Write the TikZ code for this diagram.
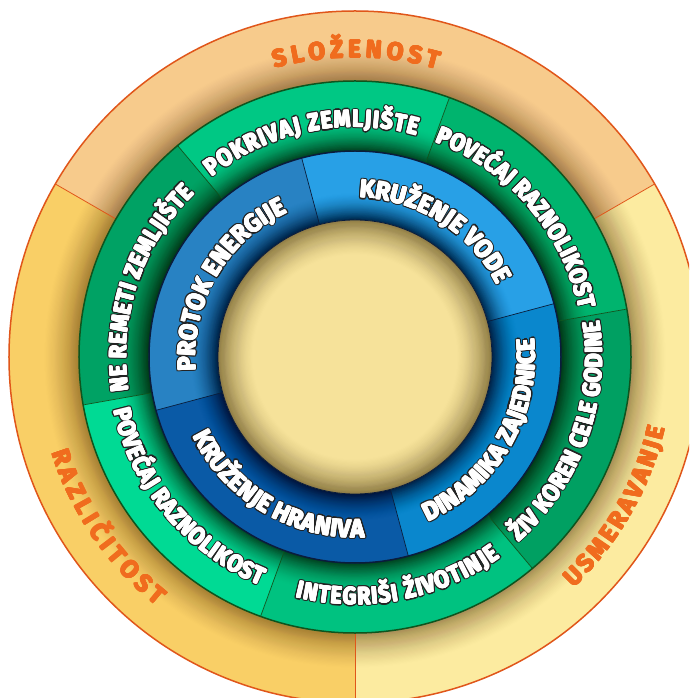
\documentclass[tikz,border=0pt]{standalone}
\usepackage{fontspec}
\usetikzlibrary{decorations.text}
\newfontfamily\orfam{Fira Sans}[FakeStretch=1.0]
\newfontfamily\grfam{Fira Sans}[FakeStretch=0.9]
\newfontfamily\blfam{Fira Sans}[FakeStretch=0.96]
\newcommand\ofmt{\orfam\bfseries\fontsize{24.5pt}{26pt}\selectfont}
\newcommand\gfmt{\grfam\bfseries\fontsize{24pt}{26pt}\selectfont}
\newcommand\bfmt{\blfam\bfseries\fontsize{25pt}{27pt}\selectfont}
\definecolor{oTop}{RGB}{247,203,140}
\definecolor{oLeft}{RGB}{249,207,102}
\definecolor{oRight}{RGB}{252,235,160}
\definecolor{oLine}{RGB}{224,86,26}
\definecolor{oText}{RGB}{240,108,30}
\definecolor{oShadow}{RGB}{90,55,15}
\definecolor{gA}{RGB}{0,200,132}
\definecolor{gB}{RGB}{0,180,110}
\definecolor{gC}{RGB}{0,162,100}
\definecolor{gD}{RGB}{0,218,148}
\definecolor{gE}{RGB}{0,194,128}
\definecolor{gF}{RGB}{0,160,98}
\definecolor{gLine}{RGB}{14,84,30}
\definecolor{gShadow}{RGB}{0,35,12}
\definecolor{bA}{RGB}{40,130,195}
\definecolor{bB}{RGB}{40,160,230}
\definecolor{bC}{RGB}{10,135,205}
\definecolor{bD}{RGB}{10,90,166}
\definecolor{bLine}{RGB}{10,28,60}
\definecolor{bShadow}{RGB}{0,14,40}
\definecolor{disk}{RGB}{246,226,154}
\definecolor{dShadow}{RGB}{80,62,20}
\definecolor{txtLine}{RGB}{35,35,35}
\tikzset{
  orline/.style={draw=oLine,line width=0.8pt},
  grline/.style={draw=gLine,line width=0.7pt},
  blline/.style={draw=bLine,line width=0.7pt}
}
\newcommand\sector[4]{% color, r, a1, a2
  \fill[#1] (0,0) -- (#3:#2pt) arc[start angle=#3,end angle=#4,radius=#2pt] -- cycle;}
% soft shadow band: colour, r0, signed width, max opacity, power, layers
\newcommand\ringshadow[6]{%
  \foreach \i in {1,...,#6}{%
    \pgfmathsetmacro\Ti{#4*(max(0.0001,1-(\i-0.5)/#6))^#5}%
    \pgfmathsetmacro\Tn{#4*(max(0.0001,1-(\i+0.5)/#6))^#5}%
    \pgfmathsetmacro\ai{1-(1-\Ti)/(1-\Tn)}%
    \pgfmathsetmacro\rr{#2+#3*\i/#6}%
    \fill[#1,opacity=\ai,even odd rule] (0,0) circle[radius=#2pt] (0,0) circle[radius=\rr pt];
  }}
% one copy of a text along an arc: colour, dx, dy, fmt, radius, start, end, text
\newcommand\arctext[8]{%
  \path[shift={(#2pt,#3pt)},decorate,decoration={text along path,text={|#4|#8},text align={fit to path},text color=#1}] (#6:#5pt) arc[start angle=#6,end angle=#7,radius=#5pt];}
\newcommand\olabel[5]{% fmt, radius, start, end, text (white, dark outline)
  \foreach \an in {0,30,...,330}{%
    \pgfmathsetmacro\ox{1.9*cos(\an)}\pgfmathsetmacro\oy{1.9*sin(\an)}%
    \arctext{txtLine}{\ox}{\oy}{#1}{#2}{#3}{#4}{#5}}%
  \arctext{white}{0}{0}{#1}{#2}{#3}{#4}{#5}%
  \foreach \an in {0,45,...,315}{%
    \pgfmathsetmacro\ox{0.6*cos(\an)}\pgfmathsetmacro\oy{0.6*sin(\an)}%
    \arctext{white}{\ox}{\oy}{#1}{#2}{#3}{#4}{#5}}%
}
\newcommand\plabel[5]{% fmt, radius, start, end, text (orange)
  \arctext{oText}{0}{0}{#1}{#2}{#3}{#4}{#5}%
  \foreach \an in {0,45,...,315}{%
    \pgfmathsetmacro\ox{0.6*cos(\an)}\pgfmathsetmacro\oy{0.6*sin(\an)}%
    \arctext{oText}{\ox}{\oy}{#1}{#2}{#3}{#4}{#5}}%
}
\begin{document}
\begin{tikzpicture}[x=1pt,y=1pt]
\useasboundingbox (-355,-341) rectangle (334,357);
\fill[white] (-355,-341) rectangle (334,357);
\begin{scope}
\clip (-355,-341) rectangle (334,357);
% outer ring
\sector{oTop}{346}{30}{150}
\sector{oLeft}{346}{150}{270}
\sector{oRight}{346}{270}{390}
\ringshadow{oShadow}{276}{36}{0.45}{1.5}{30}
\foreach \a in {30,150,270} \draw[orline] (\a:276pt) -- (\a:346pt);
\draw[oLine,line width=1.5pt] (0,0) circle[radius=346pt];
% green ring
\sector{gB}{276}{10}{70}
\sector{gA}{276}{70}{130}
\sector{gC}{276}{130}{190}
\sector{gD}{276}{190}{250}
\sector{gE}{276}{250}{310}
\sector{gF}{276}{310}{370}
\ringshadow{gShadow}{206}{32}{0.75}{1.8}{30}
\foreach \a in {10,70,130,190,250,310} \draw[grline] (\a:206pt) -- (\a:276pt);
\draw[gLine,line width=1.5pt] (0,0) circle[radius=276pt];
% blue ring
\sector{bB}{206}{15}{105}
\sector{bA}{206}{105}{195}
\sector{bD}{206}{195}{285}
\sector{bC}{206}{285}{375}
\ringshadow{bShadow}{137}{28}{0.75}{1.8}{30}
\foreach \a in {15,105,195,285} \draw[blline] (\a:137pt) -- (\a:206pt);
\draw[bLine,line width=1.5pt] (0,0) circle[radius=206pt];
% disk
\fill[disk] (0,0) circle[radius=137pt];
\ringshadow{dShadow}{137}{-36}{0.55}{1.5}{30}
\draw[bLine,line width=0.8pt] (0,0) circle[radius=137pt];
% orange labels
\plabel{\ofmt}{299.5}{105.5}{74}{SLOŽENOST}
\plabel{\ofmt}{318}{197.5}{231.5}{RAZLIČITOST}
\plabel{\ofmt}{318}{313.5}{347}{USMERAVANJE}
% green labels
\olabel{\gfmt}{230}{128.5}{74.5}{POKRIVAJ ZEMLJIŠTE}
\olabel{\gfmt}{229.5}{69.5}{12}{POVEĆAJ RAZNOLIKOST}
\olabel{\gfmt}{229}{188.5}{134.5}{NE REMETI ZEMLJIŠTE}
\olabel{\gfmt}{247}{192.5}{247.5}{POVEĆAJ RAZNOLIKOST}
\olabel{\gfmt}{247.5}{256}{306}{INTEGRIŠI ŽIVOTINJE}
\olabel{\gfmt}{247}{311.5}{368.5}{ŽIV KOREN CELE GODINE}
% blue labels
\olabel{\bfmt}{159.5}{185}{117}{PROTOK ENERGIJE}
\olabel{\bfmt}{159.5}{88.5}{28}{KRUŽENJE VODE}
\olabel{\bfmt}{180}{294}{366}{DINAMIKA ZAJEDNICE}
\olabel{\bfmt}{180.5}{206}{273}{KRUŽENJE HRANIVA}
\end{scope}
\end{tikzpicture}
\end{document}
